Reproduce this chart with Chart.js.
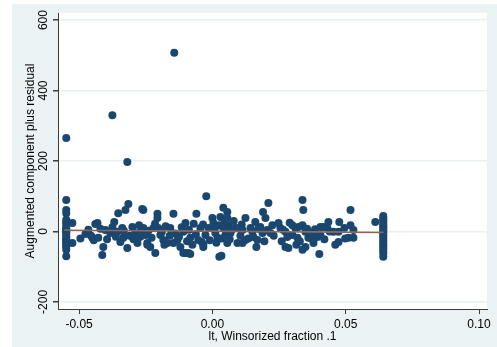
<!DOCTYPE html>
<html>
<head>
<meta charset="utf-8">
<script src="https://cdn.jsdelivr.net/npm/chart.js@4.4.1/dist/chart.umd.min.js"></script>
<style>
  html, body { margin: 0; padding: 0; background: #fff; }
  #wrap { position: relative; width: 497px; height: 347px; }
</style>
</head>
<body>
<div id="wrap"><canvas id="chart" width="497" height="347"></canvas></div>
<script>
/* ===== Data ===== */
// x ticks / y ticks
const X_TICKS = [-0.05, 0.00, 0.05, 0.10];
const Y_TICKS = [-200, 0, 200, 400, 600];

// outlying observations
const outlierPoints = [
  [-0.0548, 265], [-0.0375, 330], [-0.0143, 507], [-0.0319, 197],
];

// stacked values at the lower winsorized bound
const lowBoundX = -0.0548;
const lowBoundY = [89, 61, 52, 33, 27, 21, 13, 8, 4, -1, -4, -10, -16, -21, -24, -30, -33, -40, -44, -52, -70];

// stacked values at the upper winsorized bound
const highBoundX = 0.0641;
const highBoundY = [44, 38, 33, 28, 22, 17, 12, 8, 3, -2, -7, -12, -18, -24, -30, -36, -42, -48, -55, -62, -72];

// main cloud
const bandPoints = [
  [-0.0525, 24], [-0.0525, -33], [-0.0495, -20], [-0.0476, -7], [-0.0465, 5], [-0.0455, -12],
  [-0.045, -18], [-0.0445, -25], [-0.0439, 21], [-0.0431, 24], [-0.0428, -18], [-0.042, 8],
  [-0.0413, -67], [-0.0409, -44], [-0.0401, 4], [-0.0395, -22], [-0.0383, -4], [-0.0375, 12],
  [-0.0368, 27], [-0.0362, -15], [-0.0356, -1], [-0.0353, 52], [-0.0345, -30], [-0.0338, 10],
  [-0.0334, -18], [-0.0332, 2], [-0.0326, 61], [-0.0319, -47], [-0.0315, 78], [-0.031, -12],
  [-0.030, 13], [-0.0296, -22], [-0.0289, -4], [-0.0281, -33], [-0.0275, 18], [-0.027, -15],
  [-0.0266, 4], [-0.0263, 64], [-0.0259, 61], [-0.0259, 10], [-0.0251, -10], [-0.0244, -33],
  [-0.0244, -38], [-0.024, 2], [-0.0233, -44], [-0.0228, -18], [-0.0221, 10], [-0.0215, 22],
  [-0.0214, -61], [-0.0206, 50], [-0.0206, 38], [-0.0203, 10], [-0.0195, -10], [-0.019, -2],
  [-0.0184, -24], [-0.018, -38], [-0.0175, 15], [-0.0169, -33], [-0.016, -12], [-0.0158, 10],
  [-0.0146, 50], [-0.0146, -33], [-0.0138, -6], [-0.0131, -24], [-0.0125, -15], [-0.012, -44],
  [-0.0115, 12], [-0.0109, -1], [-0.0109, -61], [-0.0101, 24], [-0.0101, -61], [-0.0095, -28],
  [-0.009, -61], [-0.0088, 5], [-0.0083, -18], [-0.0083, -64], [-0.0075, -38], [-0.007, 22],
  [-0.0062, -8], [-0.006, 50], [-0.0053, -24], [-0.0045, 10], [-0.004, -30], [-0.0035, 20],
  [-0.0034, -44], [-0.0034, -38], [-0.0026, -10], [-0.0023, 100], [-0.0015, 10], [-0.001, -25],
  [0.0000, 38], [0.0004, 24], [0.0008, 8], [0.0011, -4], [0.0015, -32], [0.0019, -18],
  [0.0025, 18], [0.0026, -72], [0.003, 41], [0.0034, -69], [0.0035, -20], [0.0041, 67],
  [0.0041, 10], [0.0046, 28], [0.0049, -10], [0.0052, -2], [0.0056, 38], [0.0056, -33],
  [0.0056, 55], [0.006, 18], [0.0065, -22], [0.0068, -4], [0.0075, 6], [0.008, 30],
  [0.0086, 10], [0.0094, -33], [0.0098, 10], [0.0105, -12], [0.011, 20], [0.0113, 4],
  [0.0113, -33], [0.0124, -24], [0.0124, 38], [0.0135, -20], [0.0143, 10], [0.015, -1],
  [0.0154, -16], [0.0161, 27], [0.0165, -44], [0.0169, -24], [0.0172, 8], [0.018, 13],
  [0.0188, -4], [0.019, 55], [0.0195, -28], [0.0199, 38], [0.0206, 4], [0.021, 81],
  [0.0218, -4], [0.0225, 18], [0.023, -12], [0.0248, 24], [0.0255, 10], [0.026, -28],
  [0.0265, 5], [0.0274, -1], [0.0274, -44], [0.0281, -16], [0.0285, -47], [0.029, 25],
  [0.030, 18], [0.030, -10], [0.0311, 10], [0.0315, -38], [0.0319, -18], [0.0323, 13],
  [0.0328, -28], [0.0338, 89], [0.0338, 18], [0.0338, -52], [0.0341, 61], [0.0349, -1],
  [0.0349, -44], [0.0355, 8], [0.036, -18], [0.0368, -18], [0.0375, -4], [0.0379, -33],
  [0.0379, -24], [0.0385, 6], [0.0394, -16], [0.0401, -64], [0.0405, -10], [0.0405, 13],
  [0.0416, 13], [0.042, -22], [0.0431, 10], [0.0435, 27], [0.044, 0], [0.0454, -1],
  [0.0461, -38], [0.0473, -30], [0.0473, -1], [0.0476, 27], [0.0495, 10], [0.0498, -20],
  [0.051, -18], [0.0518, 61], [0.0518, 18], [0.0529, 4], [0.0529, -18], [0.0611, 27],
];

// fitted component line and lowess line (end points)
const fitX = [-0.0555, 0.0641];
const fitY = [3, -3];
const lowessY = [4, -2];

/* ===== Build datasets ===== */
const scatterData = []
  .concat(outlierPoints.map(p => ({ x: p[0], y: p[1] })))
  .concat(lowBoundY.map(y => ({ x: lowBoundX, y })))
  .concat(bandPoints.map(p => ({ x: p[0], y: p[1] })))
  .concat(highBoundY.map(y => ({ x: highBoundX, y })));

const NAVY = '#1a476f';
const AXIS = '#3c3c3c';
const FONT = '"Liberation Sans", Arial, sans-serif';

/* ===== Stata-like background + rotated y labels ===== */
const stataFrame = {
  id: 'stataFrame',
  beforeDraw(chart) {
    const { ctx, chartArea: a } = chart;
    ctx.save();
    ctx.fillStyle = '#ffffff';
    ctx.fillRect(0, 0, chart.width, chart.height);
    ctx.fillStyle = '#eaf2f3';
    ctx.fillRect(12, 4, chart.width - 12, chart.height - 4);
    ctx.fillStyle = '#ffffff';
    ctx.fillRect(a.left, a.top, a.right - a.left, a.bottom - a.top);
    ctx.restore();
  },
  afterDraw(chart) {
    const { ctx, chartArea: a } = chart;
    const ys = chart.scales.y;
    ctx.save();
    ctx.fillStyle = '#000';
    ctx.font = '12px ' + FONT;
    ctx.textAlign = 'center';
    ctx.textBaseline = 'middle';
    Y_TICKS.forEach(v => {
      const py = ys.getPixelForValue(v);
      ctx.save();
      ctx.translate(44, py);
      ctx.rotate(-Math.PI / 2);
      ctx.fillText(String(v), 0, 0);
      ctx.restore();
    });
    // y title
    ctx.save();
    ctx.translate(31, (a.top + a.bottom) / 2);
    ctx.rotate(-Math.PI / 2);
    ctx.fillText('Augmented component plus residual', 0, 0);
    ctx.restore();
    // x title
    ctx.fillText('lt, Winsorized fraction .1', (a.left + a.right) / 2, 337);
    ctx.restore();
  },
};

new Chart(document.getElementById('chart').getContext('2d'), {
  type: 'scatter',
  data: {
    datasets: [
      {
        data: scatterData,
        backgroundColor: NAVY,
        borderWidth: 0,
        pointRadius: 4,
        order: 2,
      },
      {
        type: 'line',
        data: fitX.map((x, i) => ({ x, y: lowessY[i] })),
        borderColor: '#7f9a4a',
        borderWidth: 1,
        pointRadius: 0,
        order: 1,
      },
      {
        type: 'line',
        data: fitX.map((x, i) => ({ x, y: fitY[i] })),
        borderColor: '#9a5a5f',
        borderWidth: 1.2,
        pointRadius: 0,
        order: 0,
      },
    ],
  },
  options: {
    responsive: false,
    animation: false,
    layout: { padding: { left: 0, top: 13, right: 10, bottom: 0 } },
    plugins: { legend: { display: false }, tooltip: { enabled: false } },
    scales: {
      x: {
        type: 'linear',
        min: -0.0579,
        max: 0.103,
        afterBuildTicks: s => { s.ticks = X_TICKS.map(v => ({ value: v })); },
        afterFit: s => { s.height = 38; },
        border: { color: AXIS, width: 1 },
        grid: { drawOnChartArea: false, drawTicks: true, tickLength: 5, tickColor: AXIS },
        ticks: {
          color: '#000',
          font: { family: FONT, size: 12 },
          padding: 3,
          maxRotation: 0,
          callback: v => v.toFixed(2),
        },
      },
      y: {
        type: 'linear',
        min: -220,
        max: 620,
        afterBuildTicks: s => { s.ticks = Y_TICKS.map(v => ({ value: v })); },
        afterFit: s => { s.width = 58; },
        border: { color: AXIS, width: 1 },
        grid: { color: '#eaf0f1', lineWidth: 1.5, drawTicks: true, tickLength: 5, tickColor: AXIS },
        ticks: { color: 'rgba(0,0,0,0)', font: { family: FONT, size: 12 } },
      },
    },
  },
  plugins: [stataFrame],
});
</script>
</body>
</html>
